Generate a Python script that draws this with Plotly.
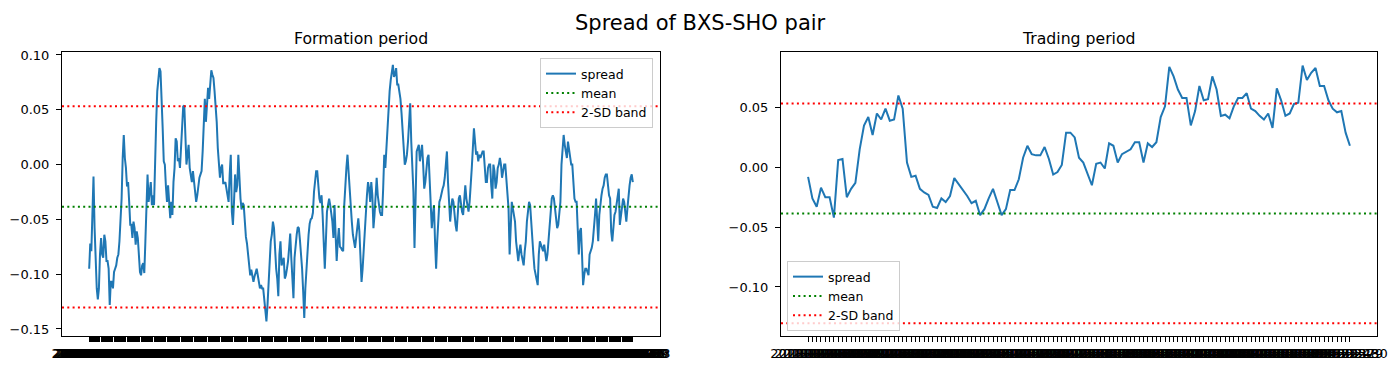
import plotly.graph_objects as go
import pandas as pd

# ---------------- data ----------------
formation_dates = [d.strftime("%Y-%m-%d") for d in pd.bdate_range(end="2018-12-03", periods=504)]
trading_dates = [d.strftime("%Y-%m-%d") for d in pd.bdate_range(end="2019-05-30", periods=127)]

formation_spread = [
    -0.095, -0.072, -0.079, -0.046, -0.011, -0.058, -0.098, -0.113, -0.123, -0.113,
    -0.082, -0.067, -0.082, -0.085, -0.064, -0.070, -0.088, -0.088, -0.095, -0.128,
    -0.107, -0.107, -0.113, -0.098, -0.095, -0.092, -0.085, -0.082, -0.070, -0.052,
    -0.031, 0.006, 0.027, 0.006, -0.003, -0.020, -0.016, -0.034, -0.055, -0.055,
    -0.067, -0.052, -0.058, -0.073, -0.061, -0.067, -0.079, -0.098, -0.101, -0.092,
    -0.090, -0.099, -0.070, -0.037, -0.009, -0.034, -0.025, -0.016, -0.037, -0.028,
    -0.037, 0.009, 0.039, 0.067, 0.079, 0.088, 0.085, 0.064, 0.033, 0.003,
    0.000, -0.020, -0.034, -0.019, -0.034, -0.049, -0.034, -0.046, -0.016, -0.003,
    0.024, 0.021, 0.003, 0.006, -0.003, 0.021, 0.045, 0.053, 0.054, 0.015,
    0.000, 0.009, 0.018, -0.003, -0.011, -0.016, -0.006, -0.016, -0.028, -0.034,
    -0.028, -0.016, -0.012, -0.009, -0.006, 0.012, 0.033, 0.060, 0.039, 0.057,
    0.070, 0.060, 0.073, 0.086, 0.082, 0.079, 0.067, 0.054, 0.039, 0.015,
    0.000, -0.012, -0.003, 0.000, -0.017, -0.017, -0.016, -0.022, -0.028, -0.034,
    -0.009, 0.009, -0.043, -0.055, -0.034, -0.009, -0.025, -0.019, 0.009, -0.016,
    -0.031, -0.041, -0.035, -0.037, -0.058, -0.066, -0.072, -0.081, -0.092, -0.101,
    -0.096, -0.101, -0.107, -0.102, -0.098, -0.095, -0.101, -0.107, -0.113, -0.110,
    -0.113, -0.113, -0.122, -0.134, -0.143, -0.128, -0.110, -0.082, -0.070, -0.064,
    -0.052, -0.058, -0.082, -0.095, -0.104, -0.120, -0.082, -0.070, -0.092, -0.088,
    -0.085, -0.104, -0.101, -0.095, -0.088, -0.076, -0.063, -0.085, -0.107, -0.122,
    -0.085, -0.072, -0.064, -0.057, -0.058, -0.069, -0.079, -0.095, -0.116, -0.140,
    -0.113, -0.092, -0.073, -0.064, -0.054, -0.050, -0.049, -0.044, -0.025, -0.012,
    -0.006, -0.006, -0.022, -0.031, -0.035, -0.028, -0.046, -0.076, -0.095, -0.070,
    -0.043, -0.037, -0.031, -0.037, -0.043, -0.052, -0.067, -0.037, -0.064, -0.088,
    -0.070, -0.058, -0.075, -0.076, -0.078, -0.079, -0.037, -0.016, -0.003, 0.009,
    -0.009, -0.025, -0.037, -0.052, -0.064, -0.070, -0.076, -0.067, -0.058, -0.049,
    -0.061, -0.079, -0.107, -0.095, -0.076, -0.061, -0.043, -0.028, -0.016, -0.022,
    -0.034, -0.016, -0.028, -0.058, -0.046, -0.031, -0.012, -0.028, -0.037, -0.043,
    -0.046, -0.046, -0.022, 0.009, -0.003, 0.018, 0.033, 0.047, 0.067, 0.077,
    0.085, 0.091, 0.080, 0.082, 0.088, 0.073, 0.073, 0.067, 0.060, 0.047,
    0.030, 0.015, 0.000, 0.003, 0.009, 0.021, 0.039, 0.056, 0.021, 0.000,
    -0.025, -0.076, -0.022, 0.012, 0.015, 0.018, 0.003, 0.009, 0.018, 0.000,
    -0.022, -0.016, 0.000, 0.006, 0.009, -0.019, -0.031, -0.058, -0.046, -0.037,
    -0.070, -0.095, -0.070, -0.046, -0.034, -0.031, -0.025, -0.022, -0.019, -0.012,
    0.000, 0.012, -0.016, -0.037, -0.052, -0.040, -0.031, -0.034, -0.049, -0.055,
    -0.061, -0.043, -0.031, -0.028, -0.037, -0.043, -0.046, -0.028, -0.019, -0.031,
    -0.040, -0.043, -0.034, -0.022, -0.003, 0.015, 0.033, 0.021, 0.009, 0.012,
    0.003, 0.009, 0.006, 0.009, 0.012, 0.012, -0.003, -0.016, -0.016, -0.003,
    0.000, 0.000, -0.019, -0.031, 0.000, -0.006, -0.022, -0.016, -0.003, 0.000,
    0.006, 0.000, -0.012, -0.006, 0.000, 0.000, -0.016, -0.031, -0.040, -0.082,
    -0.058, -0.034, -0.040, -0.046, -0.052, -0.070, -0.082, -0.088, -0.079, -0.073,
    -0.082, -0.088, -0.092, -0.079, -0.070, -0.052, -0.043, -0.034, -0.037, -0.055,
    -0.070, -0.082, -0.095, -0.101, -0.107, -0.110, -0.082, -0.070, -0.073, -0.076,
    -0.079, -0.073, -0.082, -0.088, -0.082, -0.070, -0.052, -0.040, -0.031, -0.028,
    -0.031, -0.040, -0.052, -0.058, -0.055, -0.043, -0.034, 0.000, 0.018, 0.027,
    0.018, 0.009, 0.006, 0.021, 0.015, 0.006, 0.000, 0.000, -0.012, -0.031,
    -0.034, -0.034, -0.058, -0.082, -0.061, -0.058, -0.082, -0.110, -0.101, -0.095,
    -0.095, -0.098, -0.101, -0.082, -0.079, -0.076, -0.070, -0.061, -0.046, -0.031,
    -0.046, -0.070, -0.046, -0.034, -0.028, -0.022, -0.019, -0.012, -0.009, -0.009,
    -0.019, -0.028, -0.031, -0.061, -0.070, -0.052, -0.046, -0.043, -0.034, -0.025,
    -0.022, -0.055, -0.046, -0.040, -0.031, -0.034, -0.046, -0.052, -0.040, -0.025,
    -0.019, -0.012, -0.009, -0.016,
]

trading_spread = [
    -0.008, -0.026, -0.033, -0.017, -0.025, -0.025, -0.042, 0.006, 0.007, -0.025,
    -0.018, -0.013, 0.015, 0.035, 0.042, 0.027, 0.045, 0.040, 0.049, 0.039,
    0.040, 0.060, 0.049, 0.004, -0.008, -0.007, -0.018, -0.021, -0.023, -0.033,
    -0.034, -0.026, -0.029, -0.024, -0.009, -0.014, -0.018, -0.024, -0.030, -0.028,
    -0.040, -0.035, -0.026, -0.018, -0.029, -0.040, -0.035, -0.019, -0.019, -0.010,
    0.008, 0.018, 0.011, 0.010, 0.010, 0.017, 0.007, -0.006, -0.004, 0.002,
    0.029, 0.029, 0.025, 0.008,
    0.004, -0.005, -0.015, 0.003, 0.004, -0.001, 0.020, 0.018, 0.004, 0.011,
    0.013, 0.015, 0.021, 0.021, 0.004, 0.020, 0.017, 0.021, 0.042, 0.051,
    0.084, 0.076, 0.065, 0.058, 0.058, 0.035, 0.047, 0.068, 0.056, 0.057,
    0.076, 0.065, 0.043, 0.044, 0.041, 0.051, 0.058, 0.058, 0.062, 0.049,
    0.047, 0.043, 0.040, 0.045, 0.033, 0.066, 0.056, 0.043, 0.045, 0.053,
    0.054, 0.085, 0.073, 0.079, 0.083, 0.068, 0.068, 0.056, 0.049, 0.046,
    0.047, 0.029, 0.018,
]

spread_mean = -0.0385
spread_sd = 0.0459

formation_yticks = [-0.15, -0.10, -0.05, 0.00, 0.05, 0.10]
trading_yticks = [-0.10, -0.05, 0.00, 0.05]

# ---------------- styling ----------------
FONT = "DejaVu Sans"
BLUE = "#1f77b4"
GREEN = "#008000"
RED = "#ff0000"
W, H = 1400, 369

upper = spread_mean + 2 * spread_sd
lower = spread_mean - 2 * spread_sd

fig = go.Figure()


def add_panel(xa, ya, values, legend):
    n = len(values)
    x0, x1 = -0.05 * (n - 1), 1.05 * (n - 1)
    xs = list(range(n))
    fig.add_trace(go.Scatter(x=xs, y=values, mode="lines", name="spread",
                             line=dict(color=BLUE, width=2), xaxis=xa, yaxis=ya,
                             legend=legend))
    fig.add_trace(go.Scatter(x=[x0, x1], y=[spread_mean, spread_mean], mode="lines",
                             name="mean", line=dict(color=GREEN, width=2, dash="2px,3.3px"),
                             xaxis=xa, yaxis=ya, legend=legend))
    fig.add_trace(go.Scatter(x=[x0, x1, None, x0, x1], y=[upper, upper, None, lower, lower],
                             mode="lines", name="2-SD band",
                             line=dict(color=RED, width=2, dash="2px,3.3px"),
                             xaxis=xa, yaxis=ya, legend=legend))
    return x0, x1


fx0, fx1 = add_panel("x", "y", formation_spread, "legend")
tx0, tx1 = add_panel("x2", "y2", trading_spread, "legend2")

ydom = [1 - 336 / H, 1 - 52 / H]
axis_common = dict(showline=True, mirror=True, linecolor="black", linewidth=1,
                   showgrid=False, zeroline=False, ticks="outside", ticklen=5,
                   tickwidth=1, tickcolor="black", automargin=False,
                   tickfont=dict(family=FONT, size=13, color="black"))

legend_common = dict(bgcolor="rgba(255,255,255,0.8)", bordercolor="#cccccc", borderwidth=1,
                     font=dict(family=FONT, size=12.5, color="black"), tracegroupgap=0)

fig.update_layout(
    width=W, height=H,
    margin=dict(l=0, r=0, t=0, b=0),
    paper_bgcolor="white", plot_bgcolor="white",
    font=dict(family=FONT, size=13, color="black"),
    xaxis=dict(domain=[62 / W, 660 / W], range=[fx0, fx1], tickmode="array",
               tickvals=list(range(len(formation_dates))), ticktext=formation_dates,
               tickangle=0, **axis_common),
    yaxis=dict(domain=ydom, range=[-0.1564, 0.1027], tickmode="array",
               tickvals=formation_yticks, tickformat=".2f", ticklabelstandoff=4,
               **axis_common),
    xaxis2=dict(domain=[781 / W, 1377 / W], range=[tx0, tx1], tickmode="array",
                tickvals=list(range(len(trading_dates))), ticktext=trading_dates,
                tickangle=0, anchor="y2", **axis_common),
    yaxis2=dict(domain=ydom, range=[-0.141, 0.0964], tickmode="array",
                tickvals=trading_yticks, tickformat=".2f", anchor="x2",
                ticklabelstandoff=4, **axis_common),
    legend=dict(x=653 / W, y=1 - 58 / H, xanchor="right", yanchor="top", **legend_common),
    legend2=dict(x=787 / W, y=1 - 331 / H, xanchor="left", yanchor="bottom", **legend_common),
    showlegend=True,
)

fig.add_annotation(text="Spread of BXS-SHO pair", x=0.5, y=1 - 23.5 / H, xref="paper",
                   yref="paper", showarrow=False, xanchor="center", yanchor="middle",
                   font=dict(family=FONT, size=21, color="black"))
fig.add_annotation(text="Formation period", x=(62 + 660) / 2 / W, y=1 - 38.5 / H,
                   xref="paper", yref="paper", showarrow=False, xanchor="center",
                   yanchor="middle", font=dict(family=FONT, size=15.7, color="black"))
fig.add_annotation(text="Trading period", x=(781 + 1377) / 2 / W, y=1 - 38.5 / H,
                   xref="paper", yref="paper", showarrow=False, xanchor="center",
                   yanchor="middle", font=dict(family=FONT, size=15.7, color="black"))

fig.write_html(
    "out.html",
    config={"displayModeBar": False},
    post_script="document.body.style.margin='0';document.body.style.padding='0';"
                "document.documentElement.style.overflow='hidden';",
)
